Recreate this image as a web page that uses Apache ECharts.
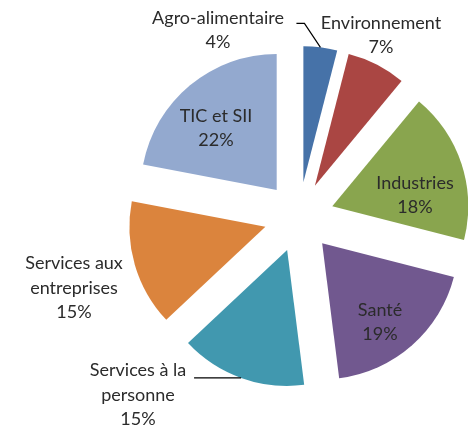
<!DOCTYPE html>
<html>
<head>
<meta charset="utf-8">
<script src="https://cdn.jsdelivr.net/npm/echarts@6/dist/echarts.min.js"></script>
<style>
  html, body { margin: 0; padding: 0; background: #fff; }
  #main { width: 468px; height: 426px; }
</style>
</head>
<body>
<div id="main"></div>
<script>
// sectors, clockwise from 12 o'clock
const sectors = ['Agro-alimentaire', 'Environnement', 'Industries', 'Santé',
    'Services à la personne', 'Services aux entreprises', 'TIC et SII'];
const shares = [4, 7, 18, 19, 15, 15, 22];
// how each label is broken over lines
const labelNames = ['Agro-alimentaire', 'Environnement', 'Industries', 'Santé',
    'Services à la\npersonne', 'Services aux\nentreprises', 'TIC et SII'];

const colors = ['#4672A8', '#AA4643', '#89A54E', '#71588F', '#4198AF', '#DB843D', '#93A9CF'];

const CX = 299, CY = 217, R = 136, EXPLODE = 35;

// label block centres (Excel best-fit placement)
const labelSpots = [
    [218, 30], [381, 35], [415, 195], [380, 322],
    [138, 395], [74, 288], [216, 128]
];

const chartDom = document.getElementById('main');
const myChart = echarts.init(chartDom);

// point on the outer arc of an exploded slice, at its bisector
function arcMid(i) {
    const total = shares.reduce((a, b) => a + b, 0);
    let before = 0;
    for (let k = 0; k < i; k++) before += shares[k];
    const ang = (before + shares[i] / 2) / total * 2 * Math.PI;
    const d = R + EXPLODE;
    return [CX + d * Math.sin(ang), CY - d * Math.cos(ang)];
}

const agroPt = arcMid(0);
const sapPt = arcMid(4);

const texts = sectors.map((name, i) => ({
    type: 'text',
    x: labelSpots[i][0],
    y: labelSpots[i][1],
    z: 100,
    silent: true,
    style: {
        text: labelNames[i] + '\n' + shares[i] + '%',
        fontFamily: 'Lato',
        fontSize: 18,
        lineHeight: 24.5,
        fill: '#2b2b2b',
        align: 'center',
        verticalAlign: 'middle'
    }
}));

const leaders = [
    [agroPt, [agroPt[0] - 16, agroPt[1] - 24], [agroPt[0] - 24, agroPt[1] - 24]],
    [sapPt, [sapPt[0] - 47, sapPt[1]]]
].map(pts => ({
    type: 'polyline',
    z: 100,
    silent: true,
    shape: { points: pts },
    style: { stroke: '#000000', lineWidth: 1.2, fill: null }
}));

const option = {
    animation: false,
    graphic: { elements: texts.concat(leaders) },
    series: [
        {
            type: 'pie',
            center: [CX, CY],
            radius: R,
            startAngle: 90,
            clockwise: true,
            selectedMode: 'multiple',
            selectedOffset: EXPLODE,
            silent: true,
            emphasis: { disabled: true },
            select: { itemStyle: { borderWidth: 0 } },
            itemStyle: { borderWidth: 0 },
            label: { show: false },
            labelLine: { show: false },
            data: sectors.map((name, i) => ({
                name: name,
                value: shares[i],
                selected: true,
                itemStyle: { color: colors[i] }
            }))
        }
    ]
};
myChart.setOption(option);
</script>
</body>
</html>
